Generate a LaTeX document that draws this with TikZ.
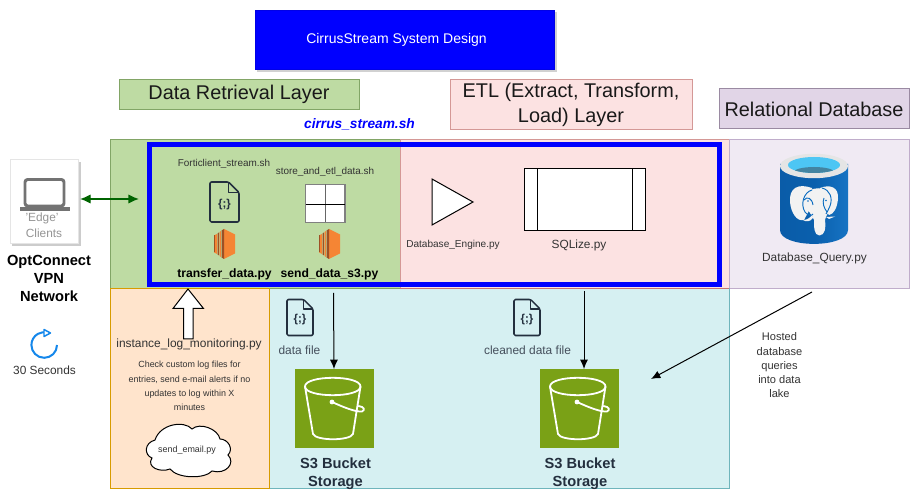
\documentclass[tikz,border=0pt]{standalone}
\usepackage{fontspec}
\setmainfont{Liberation Sans}
\usetikzlibrary{arrows.meta,shadows,calc}
\definecolor{gfill}{HTML}{BEDBA3}
\definecolor{gline}{HTML}{82A566}
\definecolor{pfill}{HTML}{FCE2E2}
\definecolor{pline}{HTML}{B85450}
\definecolor{vfill}{HTML}{E1D5E7}
\definecolor{vpanel}{HTML}{F0EAF3}
\definecolor{vline}{HTML}{C0ADCB}
\definecolor{ofill}{HTML}{FFE4CC}
\definecolor{oline}{HTML}{D79B00}
\definecolor{tfill}{HTML}{D6F0F2}
\definecolor{tline}{HTML}{6FB5BC}
\definecolor{awsdark}{HTML}{232F3E}
\definecolor{s3green}{HTML}{7AA116}
\definecolor{ecorange}{HTML}{F58534}
\definecolor{ecdark}{HTML}{9D5025}
\definecolor{txtgray}{HTML}{333333}
\definecolor{dbblue}{HTML}{0A6CC0}
\definecolor{dbdark}{HTML}{0A5CA8}
\definecolor{elephant}{HTML}{F2F2F2}
\definecolor{refreshblue}{RGB}{20,135,235}
\tikzset{
  x=0.75pt,y=-0.75pt,
  panel/.style={draw=#1,line width=0.75pt,inner sep=0},
  midlbl/.style={inner sep=0,align=center,text=txtgray,font=\fontsize{8.9}{10}\selectfont},
  hdr/.style={inner sep=0,align=center,text=black!90,font=\fontsize{14.9}{18.6}\selectfont},
  boldlbl/.style={inner sep=0,align=center,text=black,font=\bfseries\fontsize{11}{13.2}\selectfont},
  s3lbl/.style={inner sep=0,align=center,text=awsdark,font=\bfseries\fontsize{11}{13.5}\selectfont},
  scriptlbl/.style={inner sep=0,text=txtgray,font=\fontsize{7.45}{8}\selectfont},
  pylbl/.style={inner sep=0,text=black,font=\bfseries\fontsize{9.1}{10}\selectfont},
  filelbl/.style={inner sep=0,text=awsdark!85,font=\fontsize{8.95}{10}\selectfont},
  flow/.style={draw=black,line width=0.75pt,-{Latex[length=7pt,width=6pt]}},
  iconline/.style={draw=awsdark,line width=1.15pt,line join=round},
}
\newcommand{\docicon}[4]{% x y w h
  \begin{scope}[shift={(#1,#2)}]
    \pgfmathsetmacro{\w}{#3}\pgfmathsetmacro{\h}{#4}\pgfmathsetmacro{\f}{0.36*#3}
    \draw[iconline,fill=none,rounded corners=1pt] (0,0) -- (\w-\f,0) -- (\w,\f) -- (\w,\h) -- (0,\h) -- cycle;
    \draw[iconline] (\w-\f,0) -- (\w-\f,\f) -- (\w,\f);
    \node[inner sep=0,text=awsdark,font=\bfseries\fontsize{8.6}{9}\selectfont] at (\w/2,\h*0.57) {\{;\}};
  \end{scope}}
\newcommand{\ecicon}[2]{% centre
  \begin{scope}[shift={(#1,#2)}]
    \fill[ecorange] (-0.5,-15) -- (10.5,-9.5) -- (10.5,9.5) -- (-0.5,15) -- cycle;
    \fill[ecdark] (-0.5,-15) -- (-3,-13.5) -- (-3,13.5) -- (-0.5,15) -- cycle;
    \fill[ecorange] (-3.6,-13) -- (-5,-12) -- (-5,12) -- (-3.6,13) -- cycle;
    \fill[ecdark] (-5.5,-11.5) -- (-7,-10.5) -- (-7,10.5) -- (-5.5,11.5) -- cycle;
    \fill[ecorange] (-7.5,-10) -- (-10.5,-8.5) -- (-10.5,8.5) -- (-7.5,10) -- cycle;
    \draw[ecdark,line width=0.4pt] (-10.5,-8.5) -- (-10.5,8.5);
  \end{scope}}
\newcommand{\bucketicon}[2]{% top-left
  \begin{scope}[shift={(#1,#2)}]
    \fill[s3green] (0,0) rectangle (78.5,79);
    \begin{scope}[draw=white,line width=1.35pt,line join=round]
      \draw (10,17.5) .. controls (10,5.9) and (65.5,5.9) .. (65.5,17.5) .. controls (65.5,29.1) and (10,29.1) .. (10,17.5);
      \draw (10,17.5) -- (18,65) .. controls (21,72) and (55,72) .. (58,65) -- (65.5,17.5);
      \draw[line cap=round] (37,33) .. controls (48,38) and (60,43) .. (67,42.5) .. controls (70,41) and (70,38) .. (63.5,37);
      \fill[white] (37,33) circle (2.4);
    \end{scope}
  \end{scope}}
\begin{document}
\begin{tikzpicture}
\useasboundingbox (0,0) rectangle (915,495);
\fill[white] (0,0) rectangle (915,495);
% layer panels
\draw[panel=gline,fill=gfill] (110,139.5) rectangle (400,289);
\draw[panel=pline!60,fill=pfill] (400,139.5) rectangle (729,289);
\draw[panel=vline,fill=vpanel] (729,139.5) rectangle (909.5,289);
\draw[panel=tline,fill=tfill] (269,289) rectangle (729,489);
\draw[panel=oline,fill=ofill] (110,289) rectangle (269,489);
\draw[draw=gline,line width=0.75pt] (269,289) -- (400,289);
\draw[draw=pline!80,line width=0.75pt] (400,289) -- (729,289);
% title
\fill[black!18] (257,12) rectangle (557,72);
\node[fill={rgb,255:red,0;green,0;blue,255},draw={rgb,255:red,0;green,0;blue,230},line width=0.5pt,minimum width=224pt,minimum height=44.2pt,inner sep=0] (title) at (404.5,39.5) {};
\node[inner sep=0,text=white,font=\fontsize{10.5}{12}\selectfont] (titletxt) at (396.5,39.5) {CirrusStream System Design};
% headers
\node[draw=gline,fill=gfill,line width=0.75pt,minimum width=180pt,minimum height=21.8pt,hdr] (h1) at (239,94.5) {\raisebox{-0.9pt}{Data Retrieval Layer}};
\node[draw=pline!60,fill=pfill,line width=0.75pt,minimum width=181.5pt,minimum height=37.5pt,hdr] (h2) at (571,105) {\raisebox{-0.9pt}{\begin{tabular}{@{}c@{}}ETL (Extract, Transform,\\[0.2pt]Load) Layer\end{tabular}}};
\node[draw=vline!80!black,fill=vfill,line width=0.75pt,minimum width=142.5pt,minimum height=30pt,hdr] (h3) at (814,109) {\raisebox{-0.9pt}{Relational Database}};
\node[inner sep=0,text={rgb,255:red,0;green,0;blue,255},font=\bfseries\itshape\fontsize{10.3}{12}\selectfont] (cs) at (359.5,124.5) {cirrus\_stream.sh};
% thick blue frame
\draw[draw={rgb,255:red,0;green,0;blue,255},line width=3.75pt] (149.7,144.2) rectangle (719.5,284.2);
% edge clients
\fill[black!20] (12,162) rectangle (81,246);
\node[draw=black!10,fill=white,line width=0.75pt,minimum width=51.5pt,minimum height=63pt,inner sep=0] (edge) at (44.5,201.5) {};
\draw[draw=black!55,line width=2.2pt,rounded corners=2pt] (25,179.5) rectangle (64,206);
\fill[black!55] (19.5,207.5) rectangle (69.5,211);
\node[inner sep=0,text=black!42,font=\fontsize{8.9}{11}\selectfont] (edgetxt1) at (42,218.5) {'Edge'};
\node[inner sep=0,text=black!42,font=\fontsize{8.9}{11}\selectfont] (edgetxt2) at (44,233) {Clients};
\node[boldlbl] (opt) at (49,278.5) {OptConnect\\[0.4pt]VPN\\[0.4pt]Network};
% refresh
\draw[draw=refreshblue,line width=1.5pt] (57,345) arc (0:285:12.8);
\fill[draw=refreshblue,fill=white,line width=1.1pt,line join=round] (44,329.5) -- (50.5,333) -- (44,336.5) -- cycle;
\node[inner sep=0,text=txtgray,font=\fontsize{8.9}{10}\selectfont] (sec) at (44.5,370) {30 Seconds};
% vpn arrow
\coordinate (vpnL) at (80,199);
\coordinate (vpnR) at (139,199);
\draw[draw={rgb,255:red,0;green,100;blue,0},line width=1pt,{Latex[length=8pt,width=7pt]}-{Latex[length=8pt,width=7pt]}] (vpnL) -- (vpnR);
% green group
\node[scriptlbl] (f1) at (224,163.5) {Forticlient\_stream.sh};
\node[scriptlbl] (f2) at (325,171.5) {store\_and\_etl\_data.sh};
\docicon{210}{182}{29}{40}
\ecicon{224.5}{244}
\ecicon{329.5}{244}
\draw[draw=black!50,fill=white,line width=0.9pt] (305.5,184.5) rectangle (345,222.5);
\draw[draw=black!60,line width=0.9pt] (325.3,184.5) -- (325.3,222.5);
\draw[draw=black,line width=0.9pt] (305.5,204.5) -- (345,204.5);
\node[pylbl] (t1) at (224.5,274) {transfer\_data.py};
\node[pylbl] (t2) at (329.5,274) {send\_data\_s3.py};
% pink group
\draw[draw=black,fill=white,line width=0.75pt] (432,179) -- (473,202) -- (432,225) -- cycle;
\draw[draw=black,fill=white,line width=0.75pt] (524,169) rectangle (645,231);
\draw[draw=black,line width=0.75pt] (537,169) -- (537,231) (632,169) -- (632,231);
\node[midlbl,font=\fontsize{7.55}{10}\selectfont] (de) at (453,245) {Database\_Engine.py};
\node[midlbl] (sq) at (579,245) {SQLize.py};
% database
\begin{scope}
  \shade[left color=dbdark,right color=dbblue!95!white,middle color=dbdark!80!dbblue] (780,164) -- (780,230) .. controls (780,248.5) and (848,248.5) .. (848,230) -- (848,164) -- cycle;
  \fill[black!10] (814,166) ellipse (34 and 12.2);
  \fill[cyan!70!white] (814,165) ellipse (26 and 8);
  \begin{scope}
    \clip (814,165) ellipse (26 and 8);
    \fill[cyan!60!black] (814,172) ellipse (20 and 5);
  \end{scope}
  % ears
  \fill[elephant] (812,188) .. controls (798,183) and (789,188) .. (790,202) .. controls (791,213) and (797,222) .. (804,220) -- (812,205) -- cycle;
  \fill[elephant] (820,188) .. controls (830,184) and (839,187) .. (838,199) .. controls (837,208) and (834,214) .. (829,215) -- (820,205) -- cycle;
  % head and trunk
  \fill[elephant] (805,198) .. controls (806,185) and (830,185) .. (832,198) .. controls (833,208) and (827,212) .. (825,220) .. controls (826,228) and (825,235) .. (819.5,235.5) .. controls (814,235) and (814,228) .. (814,220) .. controls (812,214) and (804,208) .. (805,198) -- cycle;
  % tusks
  \fill[elephant] (803,220) .. controls (807,220) and (810,218) .. (812,215) -- (813,218) .. controls (810,222) and (806,222) .. (803,220) -- cycle;
  \fill[elephant] (826,217) -- (835,216.5) -- (829,219) -- cycle;
  % contour lines
  \draw[dbblue,line width=0.7pt] (812,190) .. controls (804,192) and (800,204) .. (805,212) .. controls (808,216) and (812,216) .. (813,214);
  \draw[dbblue,line width=0.7pt] (822,188) .. controls (830,190) and (833,198) .. (830,206) .. controls (829,209) and (827,212) .. (826,214);
  \draw[dbblue,line width=0.7pt] (813,205) .. controls (812,198) and (807,196) .. (804,200);
  \draw[dbblue,line width=0.7pt] (824,198) .. controls (822,203) and (824,208) .. (827,212);
  \fill[dbblue] (808,201) circle (0.9) (826,200.5) circle (0.9);
\end{scope}
\node[midlbl] (dq) at (814.5,258.5) {Database\_Query.py};
% orange group: big up arrow
\coordinate (arrTip) at (188,289);
\draw[draw=black,fill=white,line width=0.75pt,line join=miter] (arrTip) -- (203.5,308.5) -- (193,308.5) -- (193,339) -- (183.5,339) -- (183.5,308.5) -- (173,308.5) -- cycle;
\node[inner sep=0,text=txtgray,font=\fontsize{8.95}{10}\selectfont] (il) at (189,344.5) {instance\_log\_monitoring.py};
\node[inner sep=0,align=center,text=txtgray,font=\fontsize{6.7}{10.6}\selectfont] (chk) at (189.5,386) {Check custom log files for\\entries, send e-mail alerts if no\\updates to log within X\\minutes};
% cloud
\draw[draw=black,fill=white,line width=0.75pt] (155,440)
 .. controls (144,443) and (144,455) .. (152,458)
 .. controls (146,467) and (160,473) .. (170,469)
 .. controls (178,479) and (205,479) .. (212,471)
 .. controls (226,475) and (236,463) .. (228,455)
 .. controls (234,449) and (228,439) .. (220,439)
 .. controls (218,429) and (200,422) .. (192,429)
 .. controls (184,420) and (160,424) .. (155,440) -- cycle;
\node[inner sep=0,text=txtgray,font=\fontsize{6.7}{8}\selectfont] (se) at (187,450.5) {send\_email.py};
% teal group
\docicon{287}{299.5}{26}{36}
\docicon{514}{299.5}{26}{36}
\node[filelbl] (df) at (299.5,350.5) {data file};
\node[filelbl] (cf) at (527.5,350.5) {cleaned data file};
\bucketicon{295}{369}
\bucketicon{540}{369}
\coordinate (b1) at (334,369);
\coordinate (b2) at (584,369);
\coordinate (a1) at (333.5,293);
\coordinate (a2) at (584,291);
\draw[flow] (a1) -- (b1);
\draw[flow] (a2) -- (b2);
\node[s3lbl] (s1) at (335.5,473.5) {S3 Bucket\\Storage};
\node[s3lbl] (s2) at (580,473.5) {S3 Bucket\\Storage};
% diagonal
\coordinate (d1) at (812,292);
\coordinate (d2) at (651,379);
\draw[flow] (d1) -- (d2);
\node[inner sep=0,align=center,text=txtgray,font=\fontsize{8.3}{10.7}\selectfont] (hq) at (779.5,365.5) {Hosted\\database\\queries\\into data\\lake};
\end{tikzpicture}
\end{document}
